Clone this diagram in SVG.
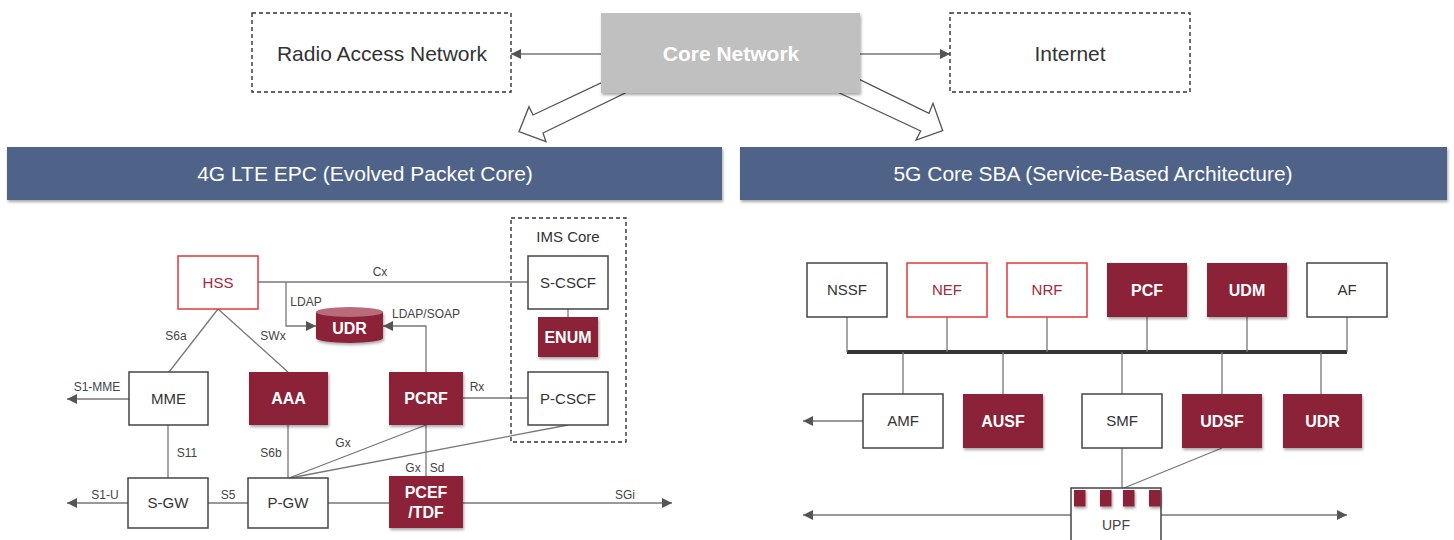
<svg xmlns="http://www.w3.org/2000/svg" width="1454" height="540" viewBox="0 0 1454 540">
<defs>
<style>
text{font-family:"Liberation Sans",Arial,sans-serif;text-anchor:middle}
.t{font-size:15px;fill:#333}
.tb{font-size:16px;fill:#fff;font-weight:bold}
.tr{font-size:15px;fill:#a3283c}
.lb{font-size:12px;fill:#444}
.big{font-size:21px;fill:#333}
.box{fill:#fff;stroke:#444;stroke-width:1.5}
.rbox{fill:#fff;stroke:#e03a3a;stroke-width:1.5}
.mbox{fill:#8c2339;filter:url(#sh)}
.dash{fill:none;stroke:#333;stroke-width:1.4;stroke-dasharray:4 3}
.ln{stroke:#777;stroke-width:1.3;fill:none}
.arr{marker-end:url(#ah)}
</style>
<filter id="sh" x="-10%" y="-10%" width="130%" height="140%">
<feDropShadow dx="1" dy="2" stdDeviation="1.5" flood-color="#000" flood-opacity="0.35"/>
</filter>
<marker id="ah" viewBox="0 0 10 10" refX="10" refY="5" markerWidth="10" markerHeight="10" markerUnits="userSpaceOnUse" orient="auto-start-reverse">
<path d="M0,0 L10,5 L0,10 z" fill="#555"/>
</marker>
</defs>

<g id="connectors">
<line class="ln arr" x1="601" y1="54" x2="511" y2="54"/>
<line class="ln arr" x1="860" y1="54" x2="950" y2="54"/>
<polygon points="615.4,76.2 533,115 529,106.7 519,131.7 546,141.7 543,133 641,85.4" fill="#fff" stroke="#555" stroke-width="1.3"/>
<polygon points="847,73.3 929,113.3 933,103.3 942.7,130.7 916,140 920.7,131 824,85.8" fill="#fff" stroke="#555" stroke-width="1.3"/>
<line class="ln" x1="258" y1="282" x2="528" y2="282"/>
<polyline class="ln arr" points="286,282 286,326 316,326"/>
<polyline class="ln arr" points="426,372 426,326 383,326"/>
<line class="ln" x1="218" y1="309" x2="169" y2="372"/>
<line class="ln" x1="218" y1="309" x2="288" y2="372"/>
<line class="ln" x1="568" y1="309" x2="568" y2="317"/>
<line class="ln arr" x1="129" y1="399" x2="67" y2="399"/>
<line class="ln" x1="463" y1="398" x2="528" y2="398"/>
<line class="ln" x1="168" y1="425" x2="168" y2="478"/>
<line class="ln" x1="288" y1="425" x2="288" y2="478"/>
<line class="ln" x1="289" y1="478" x2="426" y2="425"/>
<line class="ln" x1="290" y1="478" x2="568" y2="425"/>
<line class="ln" x1="426" y1="425" x2="426" y2="476"/>
<line class="ln arr" x1="128" y1="503" x2="67" y2="503"/>
<line class="ln" x1="208" y1="503" x2="248" y2="503"/>
<line class="ln" x1="328" y1="503" x2="389" y2="503"/>
<line class="ln arr" x1="463" y1="503" x2="672" y2="503"/>
<line x1="847" y1="352" x2="1347" y2="352" stroke="#333" stroke-width="4"/>
<line class="ln" x1="847" y1="317" x2="847" y2="352"/>
<line class="ln" x1="947" y1="317" x2="947" y2="352"/>
<line class="ln" x1="1047" y1="317" x2="1047" y2="352"/>
<line class="ln" x1="1147" y1="317" x2="1147" y2="352"/>
<line class="ln" x1="1247" y1="317" x2="1247" y2="352"/>
<line class="ln" x1="1347" y1="317" x2="1347" y2="352"/>
<line class="ln" x1="903" y1="352" x2="903" y2="394"/>
<line class="ln" x1="1003" y1="352" x2="1003" y2="394"/>
<line class="ln" x1="1122" y1="352" x2="1122" y2="394"/>
<line class="ln" x1="1222" y1="352" x2="1222" y2="394"/>
<line class="ln" x1="1321" y1="352" x2="1321" y2="394"/>
<line class="ln arr" x1="863" y1="421" x2="803" y2="421"/>
<line class="ln" x1="1122" y1="448" x2="1122" y2="488"/>
<line class="ln" x1="1222" y1="448" x2="1124" y2="488"/>
<line class="ln arr" x1="1071" y1="515" x2="803" y2="515"/>
<line class="ln arr" x1="1161" y1="515" x2="1347" y2="515"/>
</g>

<g id="labels">
<text class="lb" x="380" y="276">Cx</text>
<text class="lb" x="306" y="306">LDAP</text>
<text class="lb" x="426" y="318">LDAP/SOAP</text>
<text class="lb" x="176" y="340">S6a</text>
<text class="lb" x="273" y="340">SWx</text>
<text class="lb" x="97" y="391">S1-MME</text>
<text class="lb" x="477" y="391">Rx</text>
<text class="lb" x="187" y="457">S11</text>
<text class="lb" x="271" y="457">S6b</text>
<text class="lb" x="343" y="447">Gx</text>
<text class="lb" x="413" y="472">Gx</text>
<text class="lb" x="437" y="472">Sd</text>
<text class="lb" x="105" y="499">S1-U</text>
<text class="lb" x="228" y="499">S5</text>
<text class="lb" x="625" y="499">SGi</text>
</g>

<g id="ran"><rect class="dash" x="252" y="13" width="259" height="79"/><text class="big" x="382" y="61">Radio Access Network</text></g>
<g id="core"><rect x="601" y="13" width="259" height="80" fill="#c0c0c0" filter="url(#sh)"/><text x="731" y="61" font-size="21" font-weight="bold" fill="#fff">Core Network</text></g>
<g id="internet"><rect class="dash" x="950" y="13" width="240" height="79"/><text class="big" x="1070" y="61">Internet</text></g>

<g id="banner-4g"><rect x="7" y="147" width="715" height="53" fill="#4f6488" filter="url(#sh)"/><text x="365" y="181" font-size="21" fill="#fff">4G LTE EPC (Evolved Packet Core)</text></g>
<g id="banner-5g"><rect x="740" y="147" width="707" height="53" fill="#4f6488" filter="url(#sh)"/><text x="1093" y="181" font-size="21" fill="#fff">5G Core SBA (Service-Based Architecture)</text></g>

<g id="ims"><rect class="dash" x="511" y="218" width="115" height="224"/><text class="t" x="568" y="242">IMS Core</text></g>
<g id="hss"><rect class="rbox" x="178" y="256" width="80" height="53"/><text class="tr" x="218" y="288">HSS</text></g>
<g id="scscf"><rect class="box" x="528" y="256" width="80" height="53"/><text class="t" x="568" y="288">S-CSCF</text></g>
<g id="udr-4g">
<path d="M316,312 V338 A33.5,5 0 0 0 383,338 V312 Z" fill="#8c2339" filter="url(#sh)"/>
<ellipse cx="349.5" cy="312" rx="33.5" ry="5" fill="#b96a7b"/>
<text class="tb" x="349.5" y="334">UDR</text>
</g>
<g id="enum"><rect class="mbox" x="538" y="317" width="60" height="40"/><text class="tb" x="568" y="343">ENUM</text></g>
<g id="mme"><rect class="box" x="129" y="372" width="79" height="53"/><text class="t" x="168.5" y="404">MME</text></g>
<g id="aaa"><rect class="mbox" x="249" y="372" width="79" height="53"/><text class="tb" x="288.5" y="404">AAA</text></g>
<g id="pcrf"><rect class="mbox" x="389" y="372" width="74" height="53"/><text class="tb" x="426" y="404">PCRF</text></g>
<g id="pcscf"><rect class="box" x="528" y="372" width="80" height="53"/><text class="t" x="568" y="404">P-CSCF</text></g>
<g id="sgw"><rect class="box" x="128" y="478" width="80" height="50"/><text class="t" x="168" y="508">S-GW</text></g>
<g id="pgw"><rect class="box" x="248" y="478" width="80" height="50"/><text class="t" x="288" y="508">P-GW</text></g>
<g id="pcef"><rect class="mbox" x="389" y="476" width="74" height="52"/><text class="tb" x="426" y="498">PCEF</text><text class="tb" x="426" y="518">/TDF</text></g>

<g id="nssf"><rect class="box" x="807" y="263" width="80" height="54"/><text class="t" x="847" y="295">NSSF</text></g>
<g id="nef"><rect class="rbox" x="907" y="263" width="80" height="54"/><text class="tr" x="947" y="295">NEF</text></g>
<g id="nrf"><rect class="rbox" x="1007" y="263" width="80" height="54"/><text class="tr" x="1047" y="295">NRF</text></g>
<g id="pcf"><rect class="mbox" x="1107" y="263" width="80" height="54"/><text class="tb" x="1147" y="296">PCF</text></g>
<g id="udm"><rect class="mbox" x="1207" y="263" width="80" height="54"/><text class="tb" x="1247" y="296">UDM</text></g>
<g id="af"><rect class="box" x="1307" y="263" width="80" height="54"/><text class="t" x="1347" y="295">AF</text></g>
<g id="amf"><rect class="box" x="863" y="394" width="80" height="54"/><text class="t" x="903" y="426">AMF</text></g>
<g id="ausf"><rect class="mbox" x="963" y="394" width="80" height="54"/><text class="tb" x="1003" y="427">AUSF</text></g>
<g id="smf"><rect class="box" x="1082" y="394" width="80" height="54"/><text class="t" x="1122" y="426">SMF</text></g>
<g id="udsf"><rect class="mbox" x="1182" y="394" width="80" height="54"/><text class="tb" x="1222" y="427">UDSF</text></g>
<g id="udr-5g"><rect class="mbox" x="1283" y="394" width="79" height="54"/><text class="tb" x="1322.5" y="427">UDR</text></g>
<g id="upf">
<rect class="box" x="1071" y="488" width="90" height="60"/>
<rect class="mbox" x="1074" y="490" width="11.5" height="16.5"/>
<rect class="mbox" x="1100" y="490" width="11.5" height="16.5"/>
<rect class="mbox" x="1123" y="490" width="11.5" height="16.5"/>
<rect class="mbox" x="1149" y="490" width="11.5" height="16.5"/>
<text x="1116" y="530" font-size="14" fill="#444">UPF</text>
</g>
</svg>
